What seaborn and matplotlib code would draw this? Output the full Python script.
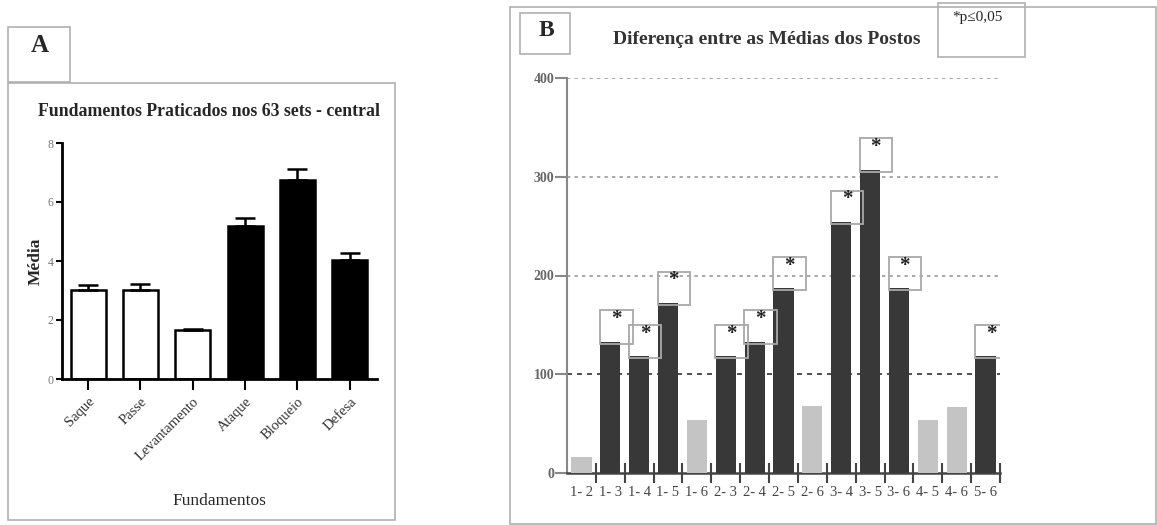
import matplotlib
matplotlib.use("Agg")
import matplotlib.pyplot as plt
from matplotlib.patches import Rectangle
import numpy as np
import pandas as pd
import seaborn as sns

# Painel A: fundamentos praticados (media e erro padrao)
fundamentos = ["Saque", "Passe", "Levantamento", "Ataque", "Bloqueio", "Defesa"]
media = [3.03, 3.03, 1.65, 5.17, 6.75, 4.03]
erro = [0.15, 0.20, 0.06, 0.30, 0.37, 0.25]
grupo = ["branco", "branco", "branco", "preto", "preto", "preto"]

# Painel B: diferenca entre as medias dos postos
pares = ["1- 2", "1- 3", "1- 4", "1- 5", "1- 6", "2- 3", "2- 4", "2- 5",
         "2- 6", "3- 4", "3- 5", "3- 6", "4- 5", "4- 6", "5- 6"]
diferenca = [16, 133, 118, 172, 54, 118, 133, 187, 68, 254, 307, 187, 54, 67, 118]
significativo = [False, True, True, True, False, True, True, True,
                 False, True, True, True, False, False, True]

W, H = 1157, 525

sns.set_theme(style="white")
plt.rcParams['font.family'] = ['Liberation Serif', 'DejaVu Serif']

fig = plt.figure(figsize=(W / 100, H / 100), dpi=100)


def px_axes(x0, y0, x1, y1):
    # coordenadas em pixels (origem no canto superior esquerdo)
    return fig.add_axes([x0 / W, 1 - y1 / H, (x1 - x0) / W, (y1 - y0) / H])


def px_box(x0, y0, x1, y1, ec="#b0b0b0", lw=1.2):
    fig.add_artist(Rectangle((x0 / W, 1 - y1 / H), (x1 - x0) / W, (y1 - y0) / H,
                             transform=fig.transFigure, fill=False, ec=ec, lw=lw))


# molduras
px_box(8, 83, 395, 520)
px_box(8, 27, 70, 82)
px_box(510, 7, 1156, 524)
px_box(520, 13, 570, 54)
px_box(938, 3, 1025, 57)

fig.text(40 / W, 1 - 45 / H, "A", fontsize=18, fontweight="bold", ha="center", va="center")
fig.text(546 / W, 1 - 31 / H, "B", fontsize=17, fontweight="bold", ha="center", va="center")
fig.text(209 / W, 1 - 112 / H, "Fundamentos Praticados nos 63 sets - central",
         fontsize=12.8, fontweight="bold", ha="center", va="center")
fig.text(767 / W, 1 - 40 / H, "Diferença entre as Médias dos Postos",
         fontsize=14, fontweight="bold", ha="center", va="center", color="#333333")
fig.text(977 / W, 1 - 17 / H, "*p≤0,05", fontsize=11, ha="center", va="center",
         color="#222222")

# ---- Painel A ----
axA = px_axes(62, 143, 377, 379)
dfA = pd.DataFrame({"fundamento": fundamentos, "media": media, "grupo": grupo})
sns.barplot(data=dfA, x="fundamento", y="media", hue="grupo",
            palette={"branco": "white", "preto": "black"}, dodge=False,
            width=0.67, edgecolor="black", linewidth=1.8, legend=False, ax=axA)
xa = np.arange(len(fundamentos))
axA.errorbar(xa, media, yerr=[np.zeros(len(erro)), erro], fmt="none",
             ecolor="black", elinewidth=1.8, capsize=7.5, capthick=1.8, zorder=1)
axA.set_xlim(-0.5, 5.52)
axA.set_ylim(0, 8)
axA.set_yticks([0, 2, 4, 6, 8])
axA.tick_params(axis="y", labelsize=8.5, labelcolor="#777777", length=4, width=1.5,
                color="black", left=True, pad=2)
axA.tick_params(axis="x", labelsize=10.5, length=8, width=1.5, color="black",
                bottom=True, labelcolor="#333333")
plt.setp(axA.get_xticklabels(), rotation=45, ha="right", rotation_mode="anchor")
axA.set_xlabel("Fundamentos", fontsize=12.5, labelpad=22)
axA.set_ylabel("Média", fontsize=12.5, fontweight="bold", labelpad=3)
for s in ["top", "right"]:
    axA.spines[s].set_visible(False)
for s in ["left", "bottom"]:
    axA.spines[s].set_linewidth(2)
    axA.spines[s].set_color("black")
axA.patch.set_alpha(0)

# ---- Painel B ----
axB = px_axes(567, 78, 1000, 473)
dfB = pd.DataFrame({"par": pares, "dif": diferenca,
                    "sig": ["sim" if s else "nao" for s in significativo]})
sns.barplot(data=dfB, x="par", y="dif", hue="sig",
            palette={"sim": "#383838", "nao": "#c4c4c4"}, dodge=False,
            width=0.7, linewidth=0, legend=False, ax=axB, zorder=3)
axB.set_xlim(-0.5, 14.5)
axB.set_ylim(0, 400)
axB.set_yticks([0, 100, 200, 300, 400])
for yv in [200, 300, 400]:
    axB.axhline(yv, color="#9a9a9a", lw=1.2, ls=(0, (2, 2.5)), zorder=1)
axB.axhline(100, color="#333333", lw=1.2, ls=(0, (3, 3)), zorder=1)

for i, (v, s) in enumerate(zip(diferenca, significativo)):
    if s:
        axB.add_patch(Rectangle((i - 0.36, v - 2), 1.13, 34, fill=False,
                                ec="#a8a8a8", lw=1.3, zorder=4))
        axB.text(i + 0.2, v + 23, "*", fontsize=15, fontweight="bold",
                 ha="center", va="center", color="#222222", zorder=5)

axB.set_xticks(np.arange(len(pares)))
axB.set_xticks(np.arange(len(pares)) + 0.5, minor=True)
axB.tick_params(axis="x", which="major", length=0, labelsize=10.5,
                labelcolor="#444444", pad=9)
axB.tick_params(axis="x", which="minor", direction="inout", length=15, width=1.5,
                color="#444444", bottom=True)
axB.tick_params(axis="y", labelsize=10, labelcolor="#666666", length=9, width=1.5,
                color="#888888", left=True, pad=0)
for lab in axB.get_yticklabels():
    lab.set_fontweight("bold")
axB.set_xlabel("")
axB.set_ylabel("")
for s in ["top", "right"]:
    axB.spines[s].set_visible(False)
axB.spines["left"].set_color("#888888")
axB.spines["left"].set_linewidth(1.5)
axB.spines["bottom"].set_color("#444444")
axB.spines["bottom"].set_linewidth(1.8)
axB.patch.set_alpha(0)

fig.savefig("out.png", dpi=100, facecolor="white")
